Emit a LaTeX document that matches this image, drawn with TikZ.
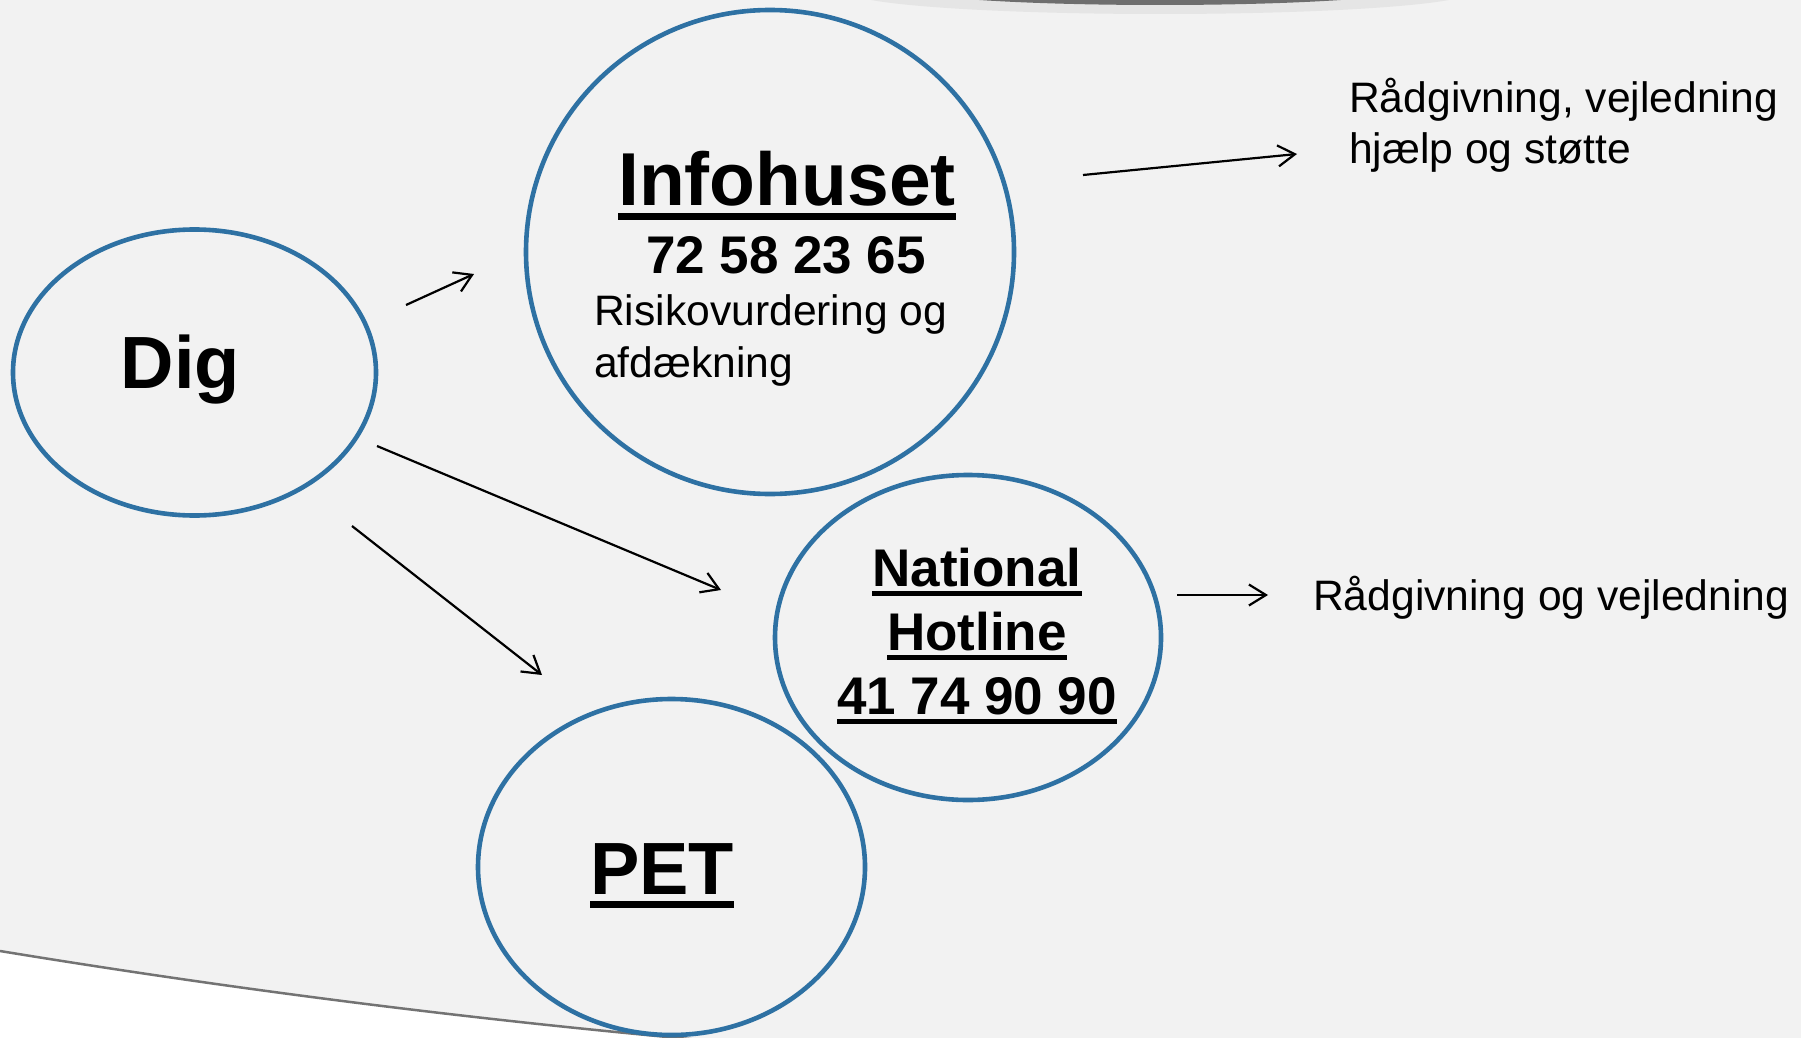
\documentclass[tikz,border=0pt]{standalone}
\usepackage{fontspec}
\setmainfont{Liberation Sans}
\usetikzlibrary{arrows.meta,shapes.geometric}
\definecolor{bgc}{HTML}{F2F2F2}
\definecolor{ringc}{HTML}{2E71A3}
\newcommand\myul[1]{\setbox0\hbox{#1}\rlap{\rule[-0.195em]{\wd0}{0.095em}}\box0}
\tikzset{
  ring/.style={ellipse, draw=ringc, line width=4.6pt, fill=bgc, inner sep=0pt},
  conn/.style={draw=black, line width=2.2pt, -{Straight Barb[length=17pt,width=21pt,line width=2.2pt]}},
  big/.style={font=\bfseries\fontsize{74}{80}\selectfont, inner sep=0pt, anchor=base},
  mid/.style={font=\bfseries\fontsize{53}{60}\selectfont, inner sep=0pt, anchor=base},
  small/.style={font=\fontsize{42.6}{50}\selectfont, inner sep=0pt, anchor=base west},
}
\begin{document}
\begin{tikzpicture}[x=1pt,y=-1pt]
\useasboundingbox (0,0) rectangle (1801,1038);
% background
\fill[bgc] (0,0) rectangle (1801,1038);
\fill[white] (0,951) .. controls (250,992) and (480,1020) .. (700,1040) -- (0,1040) -- cycle;
\draw[black!55, line width=2.5pt] (0,951) .. controls (250,992) and (480,1020) .. (700,1040);
\fill[black!10] (1160,-8) ellipse [x radius=310pt, y radius=22pt];
\fill[black!57] (1160,-12) ellipse [x radius=255pt, y radius=17pt];
% ellipses
\node[ring, minimum width=363pt, minimum height=286pt] (dig) at (194.5,372.5) {};
\node[ring, minimum width=488pt, minimum height=484pt] (info) at (770,252) {};
\node[ring, minimum width=386pt, minimum height=325pt] (hot) at (968,637.5) {};
\node[ring, minimum width=387pt, minimum height=336pt] (pet) at (671.5,867) {};
% texts
\node[big] (digt) at (180.5,388) {Dig};
\node[big, font=\bfseries\fontsize{75}{80}\selectfont] (infot) at (787,205) {\myul{Infohuset}};
\node[mid] (infon) at (786,273) {72 58 23 65};
\node[small] (risk1) at (594,325) {Risikovurdering og};
\node[small] (risk2) at (594,377) {afdækning};
\node[mid] (hot1) at (977,586) {\myul{National}};
\node[mid] (hot2) at (977,650) {\myul{Hotline}};
\node[mid] (hot3) at (977,714) {\myul{41 74 90 90}};
\node[big] (pett) at (662,894) {\myul{PET}};
\node[small] (r1) at (1349,113) {Rådgivning, vejledning};
\node[small] (r2) at (1349,164) {hjælp og støtte};
\node[small] (r3) at (1313,610) {Rådgivning og vejledning};
% connector end points
\coordinate (a1s) at (406,305); \coordinate (a1e) at (474,274);
\coordinate (a2s) at (1083,175); \coordinate (a2e) at (1297,154);
\coordinate (a3s) at (377,446); \coordinate (a3e) at (721,590);
\coordinate (a4s) at (352,526); \coordinate (a4e) at (542,675);
\coordinate (a5s) at (1177,595); \coordinate (a5e) at (1268,595);
\draw[conn] (a1s) -- (a1e);
\draw[conn] (a2s) -- (a2e);
\draw[conn] (a3s) -- (a3e);
\draw[conn] (a4s) -- (a4e);
\draw[conn] (a5s) -- (a5e);
\end{tikzpicture}
\end{document}
